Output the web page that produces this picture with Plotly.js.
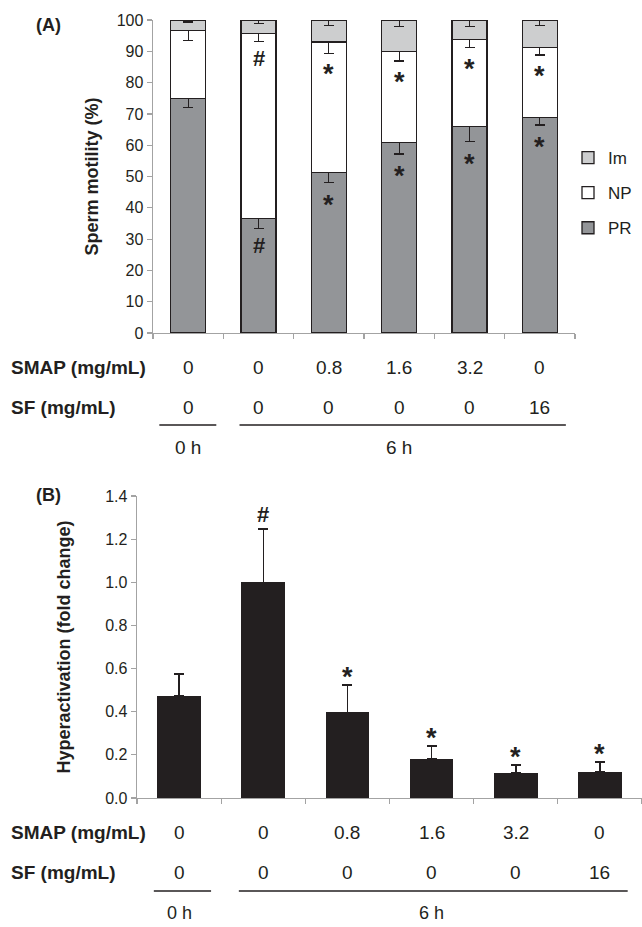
<!DOCTYPE html>
<html>
<head>
<meta charset="utf-8">
<script src="https://cdn.plot.ly/plotly-3.0.1.min.js"></script>
<style>html,body{margin:0;padding:0;background:#fff;}#chart{width:642px;height:927px;}</style>
</head>
<body>
<div id="chart"></div>
<script>
// ---- data ----
const timeLabels = ['0 h','6 h','6 h','6 h','6 h','6 h'];
const smapLabels = ['0','0','0.8','1.6','3.2','0'];
const sfLabels   = ['0','0','0','0','0','16'];
const categories = ['0 h | SMAP 0 | SF 0','6 h | SMAP 0 | SF 0','6 h | SMAP 0.8 | SF 0','6 h | SMAP 1.6 | SF 0','6 h | SMAP 3.2 | SF 0','6 h | SMAP 0 | SF 16'];

// Panel A: sperm motility (%)
const prValues  = [75.0, 36.5, 51.2, 60.8, 65.9, 68.8];
const prErrors  = [2.9, 3.1, 3.2, 3.6, 4.8, 2.3];
const npValues  = [21.6, 59.3, 41.8, 29.1, 27.9, 22.5];
const npErrors  = [3.1, 2.6, 3.6, 3.0, 2.6, 2.5];
const imValues  = [3.4, 4.2, 7.0, 10.1, 6.2, 8.7];
const imErrors  = [0.6, 1.1, 1.7, 2.0, 2.0, 1.7];
const sigNP = ['', '#', '*', '*', '*', '*'];
const sigPR = ['', '#', '*', '*', '*', '*'];

// Panel B: hyperactivation (fold change)
const haValues = [0.475, 1.00, 0.397, 0.182, 0.117, 0.122];
const haErrors = [0.10, 0.247, 0.128, 0.060, 0.036, 0.046];
const sigHA = ['', '#', '*', '*', '*', '*'];

// ---- style ----
const W = 642, H = 927;
const FONT = 'Liberation Sans, Arial, Helvetica, sans-serif';
const INK = '#231f20';
const AXC = '#a3a3a3';
const px = v => v / W;
const py = v => 1 - v / H;

const traces = [
  {type:'bar', name:'PR', x:categories, y:prValues, xaxis:'x', yaxis:'y', width:0.5,
   legendgroup:'pr', legendrank:3, marker:{color:'#939598', line:{color:INK, width:1.3}},
   error_y:{type:'data', symmetric:false, array:prValues.map(()=>0), arrayminus:prErrors, color:INK, thickness:1.3, width:5}},
  {type:'bar', name:'NP', x:categories, y:npValues, xaxis:'x', yaxis:'y', width:0.5,
   legendgroup:'np', legendrank:2, marker:{color:'#ffffff', line:{color:INK, width:1.3}},
   error_y:{type:'data', symmetric:false, array:npValues.map(()=>0), arrayminus:npErrors, color:INK, thickness:1.3, width:5}},
  {type:'bar', name:'Im', x:categories, y:imValues, xaxis:'x', yaxis:'y', width:0.5,
   legendgroup:'im', legendrank:1, marker:{color:'#cdcecf', line:{color:INK, width:1.3}},
   error_y:{type:'data', symmetric:false, array:imValues.map(()=>0), arrayminus:imErrors, color:INK, thickness:1.3, width:5}},
  {type:'bar', name:'Hyperactivation', x:categories, y:haValues, xaxis:'x2', yaxis:'y2', width:0.52,
   showlegend:false, marker:{color:INK, line:{width:0}},
   error_y:{type:'data', symmetric:false, array:haErrors, arrayminus:haValues.map(()=>0), color:INK, thickness:1.5, width:5}}
];

const annotations = [];
const shapes = [];
const starFont = {family:FONT, size:27, color:INK};
const hashFont = {family:FONT, size:22, color:INK};
const sf = s => s === '*' ? starFont : hashFont;

// panel letters
annotations.push({xref:'paper', yref:'paper', x:px(34), y:py(25), xanchor:'left', yanchor:'middle', showarrow:false,
  text:'<b>(A)</b>', font:{family:FONT, size:18, color:INK}});
annotations.push({xref:'paper', yref:'paper', x:px(34), y:py(495), xanchor:'left', yanchor:'middle', showarrow:false,
  text:'<b>(B)</b>', font:{family:FONT, size:18, color:INK}});

// significance marks
categories.forEach((c, i) => {
  if (sigNP[i]) annotations.push({xref:'x', yref:'y', x:c, y:prValues[i] + npValues[i] - npErrors[i], yanchor:'top', showarrow:false,
    yshift: sigNP[i] === '*' ? -4 : -3, text:'<b>' + sigNP[i] + '</b>', font:sf(sigNP[i])});
  if (sigPR[i]) annotations.push({xref:'x', yref:'y', x:c, y:prValues[i] - prErrors[i], yanchor:'top', showarrow:false,
    yshift: sigPR[i] === '*' ? -5 : -3, text:'<b>' + sigPR[i] + '</b>', font:sf(sigPR[i])});
  if (sigHA[i]) annotations.push({xref:'x2', yref:'y2', x:c, y:haValues[i] + haErrors[i], yanchor:'bottom', showarrow:false,
    yshift: sigHA[i] === '*' ? -9 : 0, text:'<b>' + sigHA[i] + '</b>', font:sf(sigHA[i])});
});

// condition tables under each panel
function table(xref, rows) {
  const tf = {family:FONT, size:19, color:INK};
  const hf = {family:FONT, size:rows.hourSize, color:INK};
  annotations.push({xref:'paper', yref:'paper', x:px(9), y:py(rows.smap), xanchor:'left', yanchor:'middle', showarrow:false,
    text:'<b>SMAP (mg/mL)</b>', font:tf});
  annotations.push({xref:'paper', yref:'paper', x:px(9), y:py(rows.sf), xanchor:'left', yanchor:'middle', showarrow:false,
    text:'<b>SF (mg/mL)</b>', font:tf});
  categories.forEach((c, i) => {
    annotations.push({xref:xref, yref:'paper', x:c, y:py(rows.smap), yanchor:'middle', showarrow:false, text:smapLabels[i], font:tf});
    annotations.push({xref:xref, yref:'paper', x:c, y:py(rows.sf), yanchor:'middle', showarrow:false, text:sfLabels[i], font:tf});
  });
  const groups = [...new Set(timeLabels)];
  groups.forEach((g, gi) => {
    const idx = timeLabels.map((t, i) => t === g ? i : -1).filter(i => i >= 0);
    const a = idx[0], b = idx[idx.length - 1];
    const x0 = gi === 0 ? a - rows.l0 : a - rows.l1;
    const x1 = gi === 0 ? b + rows.r0 : b + rows.r1;
    shapes.push({type:'line', xref:xref, yref:'paper', x0:x0, x1:x1, y0:py(rows.line), y1:py(rows.line), line:{color:INK, width:1.6}});
    annotations.push({xref:xref, yref:'paper', x:(a + b) / 2, y:py(rows.hour), yanchor:'middle', showarrow:false, text:g, font:hf});
  });
}
table('x', {smap:367, sf:407, line:425, hour:448, hourSize:19, l0:0.41, r0:0.40, l1:0.27, r1:0.37});
table('x2', {smap:832, sf:872, line:891, hour:913, hourSize:18, l0:0.30, r0:0.38, l1:0.29, r1:0.33});

const axCommon = {showline:true, linecolor:AXC, linewidth:1.4, ticks:'outside', ticklen:5, tickwidth:1.2, tickcolor:AXC,
  showgrid:false, zeroline:false, fixedrange:true};

const layout = {
  width:W, height:H, margin:{l:0, r:0, t:0, b:0},
  paper_bgcolor:'#fff', plot_bgcolor:'rgba(0,0,0,0)',
  font:{family:FONT, size:16, color:INK},
  barmode:'stack', showlegend:true,
  xaxis:Object.assign({}, axCommon, {domain:[px(153), px(575)], anchor:'y', type:'category', categoryorder:'array',
    categoryarray:categories, range:[-0.5, 5.5], tickson:'boundaries', showticklabels:false}),
  yaxis:Object.assign({}, axCommon, {domain:[py(333), py(20)], anchor:'x', range:[0, 100], dtick:10,
    tickfont:{family:FONT, size:16, color:INK},
    title:{text:'<b>Sperm motility (%)</b>', font:{family:FONT, size:18, color:INK}, standoff:13}}),
  xaxis2:Object.assign({}, axCommon, {domain:[px(137), 1], anchor:'y2', type:'category', categoryorder:'array',
    categoryarray:categories, range:[-0.5, 5.5], tickson:'boundaries', showticklabels:false}),
  yaxis2:Object.assign({}, axCommon, {domain:[py(798), py(496)], anchor:'x2', range:[0, 1.4], dtick:0.2, tickformat:'.1f',
    tickfont:{family:FONT, size:16, color:INK},
    title:{text:'<b>Hyperactivation (fold change)</b>', font:{family:FONT, size:18, color:INK}, standoff:30}}),
  legend:{x:px(568), y:py(140), xanchor:'left', yanchor:'top', traceorder:'grouped', tracegroupgap:10,
    font:{family:FONT, size:17, color:INK}, bgcolor:'rgba(0,0,0,0)', borderwidth:0},
  annotations:annotations, shapes:shapes
};

Plotly.newPlot('chart', traces, layout, {displayModeBar:false, staticPlot:true});
</script>
</body>
</html>
